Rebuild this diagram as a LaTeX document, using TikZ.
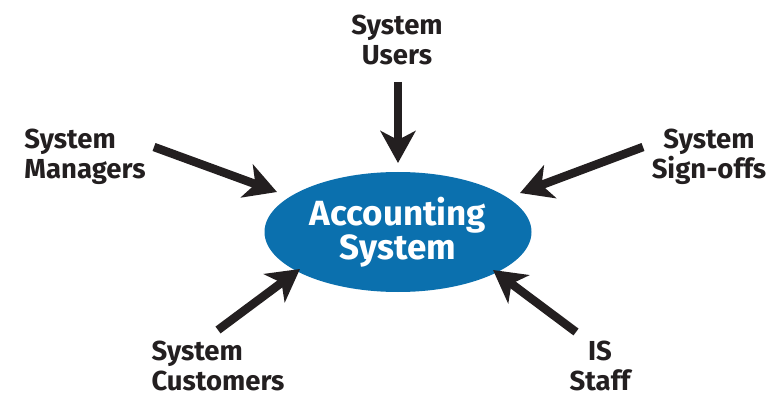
\documentclass[tikz,border=0pt]{standalone}
\usepackage{fontspec}
\setmainfont{Fira Sans}
\usetikzlibrary{arrows.meta,shapes.geometric}
\definecolor{ellblue}{HTML}{0B70AE}
\definecolor{ink}{HTML}{231F20}
\tikzset{
  lbl/.style={font=\bfseries\fontsize{27.5}{30}\selectfont, text=ink, inner sep=0pt},
  arr/.style={draw=ink, line width=8.5pt, -{Stealth[length=32pt,width=35pt,inset=9pt]}},
  hub/.style={ellipse, fill=ellblue, minimum width=267pt, minimum height=120pt, inner sep=0pt,
    text=white, font=\bfseries\fontsize{35}{34}\selectfont, align=center}
}
\begin{document}
\begin{tikzpicture}[x=1pt,y=-1pt]
\useasboundingbox (0,0) rectangle (771,398);
\node[hub] (acc) at (398,232) {Accounting\\System};
\node[lbl, align=center] (users) at (397,40) {System\\Users};
\node[lbl, align=left] (mgr) at (85,157) {System\\Managers};
\node[lbl, align=center] (sign) at (709,157) {System\\Sign-offs};
\node[lbl, align=left] (cust) at (218,366) {System\\Customers};
\node[lbl, align=center] (is) at (600,366) {IS\\Staff};
\coordinate (tU) at (398,82);  \coordinate (hU) at (398,163);
\coordinate (tM) at (154,147); \coordinate (hM) at (277,192);
\coordinate (tS) at (643,147); \coordinate (hS) at (520,193);
\coordinate (tC) at (218,330); \coordinate (hC) at (300,269);
\coordinate (tI) at (576,332); \coordinate (hI) at (493,270);
\draw[arr] (tU) -- (hU);
\draw[arr] (tM) -- (hM);
\draw[arr] (tS) -- (hS);
\draw[arr] (tC) -- (hC);
\draw[arr] (tI) -- (hI);
\end{tikzpicture}
\end{document}
